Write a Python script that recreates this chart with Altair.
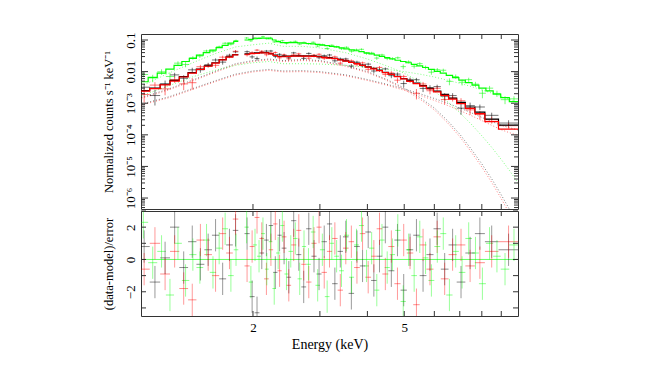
import altair as alt
import pandas as pd

W = 377
H_TOP = 175
H_BOT = 105
FONT = "Liberation Serif"

# ---------------- data ----------------
# energy bin edges (keV); the bin whose model is None is the gap near 1.85 keV
edges_br = [1.00, 1.07, 1.14, 1.21, 1.28, 1.35, 1.42, 1.49, 1.56, 1.63, 1.70, 1.77, 1.83, 1.90,
            1.96, 2.02, 2.08, 2.14, 2.20, 2.26, 2.32, 2.38, 2.45, 2.52, 2.60, 2.68, 2.76, 2.85,
            2.94, 3.03, 3.13, 3.23, 3.34, 3.45, 3.57, 3.69, 3.82, 3.95, 4.09, 4.23, 4.38, 4.54,
            4.71, 4.89, 5.08, 5.28, 5.49, 5.72, 5.97, 6.24, 6.54, 6.87, 7.24, 7.67, 8.15, 8.85, 10.0]
edges_g = [1.00, 1.06, 1.12, 1.18, 1.24, 1.30, 1.36, 1.42, 1.48, 1.54, 1.60, 1.66, 1.72, 1.78,
           1.83, 1.90, 1.95, 2.00, 2.05, 2.10, 2.15, 2.20, 2.25, 2.30, 2.36, 2.42, 2.48, 2.55,
           2.62, 2.69, 2.76, 2.84, 2.92, 3.00, 3.09, 3.18, 3.27, 3.37, 3.47, 3.58, 3.69, 3.80,
           3.92, 4.04, 4.17, 4.30, 4.44, 4.58, 4.73, 4.89, 5.05, 5.22, 5.40, 5.59, 5.79, 6.00,
           6.22, 6.45, 6.70, 6.96, 7.24, 7.54, 7.86, 8.20, 8.57, 8.97, 9.45, 10.0]

# total model per bin, log10(counts s^-1 keV^-1)
model_black = [-2.60, -2.52, -2.40, -2.28, -2.16, -2.03, -1.92, -1.82, -1.72, -1.62, -1.53, -1.46, None,
               -1.44, -1.42, -1.41, -1.40, -1.40, -1.43, -1.48, -1.52,
               -1.52, -1.51, -1.50, -1.50, -1.50, -1.50, -1.51, -1.52,
               -1.54, -1.56, -1.58, -1.62, -1.66, -1.70, -1.74, -1.79,
               -1.85, -1.90, -1.96, -2.02, -2.08, -2.15, -2.22, -2.29,
               -2.36, -2.44, -2.53, -2.62, -2.72, -2.84, -2.97, -3.12,
               -3.28, -3.50, -3.69]
model_red = [-2.62, -2.54, -2.42, -2.30, -2.17, -2.05, -1.93, -1.83, -1.73, -1.63, -1.54, -1.47, None,
             -1.45, -1.43, -1.42, -1.41, -1.41, -1.44, -1.49, -1.53,
             -1.53, -1.52, -1.51, -1.51, -1.51, -1.51, -1.52, -1.53,
             -1.55, -1.57, -1.59, -1.63, -1.67, -1.71, -1.75, -1.80,
             -1.86, -1.91, -1.97, -2.03, -2.09, -2.16, -2.23, -2.31,
             -2.38, -2.46, -2.55, -2.64, -2.75, -2.87, -3.01, -3.16,
             -3.33, -3.58, -3.82]
model_green = [-2.32, -2.18, -2.05, -1.92, -1.80, -1.68, -1.58, -1.48, -1.40, -1.32, -1.24, -1.17, -1.10, -1.04, None,
               -1.00, -0.98, -0.96, -0.95, -0.94, -0.94, -0.96, -1.00, -1.05, -1.08,
               -1.08, -1.08, -1.08, -1.09, -1.10, -1.11, -1.12, -1.14, -1.16, -1.18,
               -1.20, -1.22, -1.25, -1.28, -1.31, -1.34, -1.37, -1.41, -1.44, -1.48,
               -1.52, -1.56, -1.60, -1.64, -1.68, -1.72, -1.77, -1.82, -1.87, -1.93,
               -1.99, -2.05, -2.12, -2.19, -2.27, -2.35, -2.43, -2.52, -2.61, -2.71,
               -2.82, -2.95]

# residuals (data-model)/error per bin
resid_black = [0.8, -1.4, 0.1, 2.0, -0.5, 1.1, -0.3, 0.6, 1.5, -1.2, 0.9, 1.8, None,
               1.6, -2.3, -3.3, 0.4, 1.2, 2.1, -0.8, 1.5, 0.7, -1.1, 2.4, 0.3, -1.7, 1.9,
               0.2, -0.9, 1.1, 2.2, -1.5, 0.5, 1.4, -2.1, 0.8, -0.4, 1.7, -1.3, 0.2, 2.0,
               -0.7, 1.2, -1.9, 0.6, 1.5, -1.0, 0.3, 1.9, -0.6, 0.9, -1.4, 0.4, 1.6, 1.1, 0.6]
resid_red = [-0.6, 1.0, -0.9, 0.5, -1.8, -2.5, 1.2, 0.3, -1.0, 1.6, 0.4, 2.5, None,
             -0.4, 0.8, 2.6, 1.3, -1.2, 0.6, 2.2, -0.7, 1.4, -1.6, 0.9, 1.8, -0.3, -1.4,
             1.0, 2.0, -0.8, 0.5, 1.3, -1.9, 0.7, 1.1, -0.5, 1.6, -1.1, 0.2, 1.9, -0.9,
             0.8, -1.5, 1.2, 0.4, -2.8, 0.9, -0.6, 1.4, -1.2, 0.3, 0.9, -0.4, -0.2, 0.5, 1.1]
resid_green = [2.3, -0.2, 0.5, -2.2, 1.0, -1.3, 0.3, -0.5, 1.2, -0.8, 0.7, 1.9, -1.0, 0.6, None,
               2.0, -1.4, 0.9, 0.2, 1.6, -0.6, 1.1, -1.8, 0.4, 2.1, -0.9, 0.5, 1.3, -1.2,
               0.8, -0.3, 1.7, -1.6, 0.6, -2.3, 1.0, 0.2, -0.7, 1.5, -1.1, 0.9, 2.1, -0.4,
               0.7, -1.9, 1.2, -0.5, 0.3, 1.8, -2.6, 0.6, -1.0, 1.4, 0.1, -1.3, 0.8, 1.6,
               -2.2, 0.5, -0.8, 1.3, 0.4, -1.5, 1.0, 0.2, -0.6, 0.9]

# fractional 1-sigma errors of the data points
frac_br = [0.35, 0.30, 0.28, 0.25, 0.22, 0.20, 0.18, 0.16, 0.15, 0.14, 0.13, 0.12, None,
           0.11, 0.10, 0.10, 0.10, 0.10, 0.10, 0.11, 0.11, 0.11, 0.10, 0.10, 0.10, 0.10,
           0.10, 0.10, 0.10, 0.10,
           0.10, 0.11, 0.11, 0.11, 0.12, 0.12, 0.12, 0.13, 0.13, 0.14, 0.14, 0.15, 0.15,
           0.16, 0.17,
           0.18, 0.19, 0.20, 0.21, 0.22, 0.23, 0.25, 0.27, 0.28, 0.28, 0.26]
frac_g = [0.30, 0.25, 0.22, 0.19, 0.17, 0.15, 0.13, 0.12, 0.11, 0.10, 0.09, 0.09, 0.08, 0.08, None,
          0.08, 0.07, 0.07, 0.07, 0.07, 0.07, 0.07, 0.07, 0.07, 0.07, 0.07, 0.07, 0.07, 0.07,
          0.07, 0.07, 0.07, 0.07, 0.07,
          0.08, 0.08, 0.08, 0.08, 0.08, 0.09, 0.09, 0.09, 0.09, 0.10, 0.10, 0.10, 0.11, 0.11,
          0.11, 0.12, 0.12,
          0.13, 0.13, 0.14, 0.14, 0.15, 0.15, 0.16, 0.17, 0.18, 0.19, 0.20, 0.21, 0.22, 0.23,
          0.24, 0.25]

# model components (dotted), log10 values at these energies
comp_e = [1.0, 1.2, 1.4, 1.6, 1.8, 2.0, 2.2, 2.4, 2.7, 3.0, 3.5, 4.0, 4.5, 5.0, 5.5, 6.0,
          6.5, 7.0, 7.5, 8.0, 8.5, 9.0, 9.5, 10.0]
soft_black = [-2.85, -2.55, -2.25, -1.98, -1.75, -1.65, -1.60, -1.65, -1.62, -1.65, -1.80, -2.00,
              -2.25, -2.52, -2.82, -3.15, -3.55, -3.98, -4.45, -4.92, -5.40, -5.90, -6.40, -6.90]
hard_black = [-3.05, -2.80, -2.52, -2.28, -2.08, -1.98, -1.93, -1.98, -1.97, -2.00, -2.10, -2.25,
              -2.40, -2.55, -2.70, -2.85, -3.00, -3.15, -3.30, -3.45, -3.58, -3.70, -3.78, -3.85]
soft_red = [-2.88, -2.58, -2.28, -2.01, -1.78, -1.68, -1.63, -1.68, -1.65, -1.68, -1.83, -2.03,
            -2.28, -2.56, -2.87, -3.21, -3.62, -4.06, -4.54, -5.02, -5.51, -6.02, -6.53, -7.05]
hard_red = [-3.08, -2.83, -2.55, -2.31, -2.11, -2.01, -1.96, -2.01, -2.00, -2.03, -2.13, -2.28,
            -2.43, -2.59, -2.75, -2.91, -3.07, -3.23, -3.39, -3.55, -3.70, -3.84, -3.94, -4.02]
soft_green = [-2.50, -2.05, -1.70, -1.42, -1.22, -1.15, -1.10, -1.20, -1.20, -1.25, -1.40, -1.60,
              -1.82, -2.05, -2.32, -2.62, -2.95, -3.30, -3.66, -4.03, -4.40, -4.78, -5.16, -5.55]
hard_green = [-2.80, -2.45, -2.15, -1.95, -1.80, -1.72, -1.68, -1.75, -1.75, -1.76, -1.80, -1.86,
              -1.93, -2.00, -2.08, -2.17, -2.27, -2.37, -2.47, -2.58, -2.68, -2.78, -2.89, -3.00]

set_names = ["Black", "Red", "Green"]
set_colors = ["#000000", "#ff0000", "#00ff00"]

# axis ranges and tick labels
x_domain = [1.015, 9.96]
ytop_domain = [4.5e-7, 0.155]
ybot_domain = [-3.5, 3.0]
ytop_vals = [1e-6, 1e-5, 1e-4, 1e-3, 0.01, 0.1]
ytop_text = ["10⁻⁶", "10⁻⁵", "10⁻⁴", "10⁻³", "0.01", "0.1"]
ybot_vals = [-2, 0, 2]
ybot_text = ["−2", "0", "2"]
x_label_vals = [2, 5]
x_tick_vals = [2, 3, 4, 5, 6, 7, 8, 9]
ybot_tick_vals = [-3, -2, -1, 0, 1, 2, 3]

# ---------------- tables ----------------
def build(name, edges, model, resid, frac):
    pts, steps = [], []
    seg = 0
    for i in range(len(edges) - 1):
        if model[i] is None:
            seg += 1
            continue
        lo, hi = edges[i], edges[i + 1]
        m = 10 ** model[i]
        err = m * frac[i]
        d = m + resid[i] * err
        pts.append({"set": name, "lo": lo, "hi": hi, "ctr": (lo * hi) ** 0.5,
                    "d": d, "dlo": max(d - err, 1e-8), "dhi": d + err,
                    "r": resid[i], "rlo": resid[i] - 1, "rhi": resid[i] + 1})
        key = f"{name}-{seg}"
        steps.append({"set": name, "seg": key, "x": lo, "y": m, "o": 2 * i})
        steps.append({"set": name, "seg": key, "x": hi, "y": m, "o": 2 * i + 1})
    return pts, steps

pts, steps = [], []
for nm, ed, mo, rs, fr in [("Black", edges_br, model_black, resid_black, frac_br),
                           ("Red", edges_br, model_red, resid_red, frac_br),
                           ("Green", edges_g, model_green, resid_green, frac_g)]:
    p, s = build(nm, ed, mo, rs, fr)
    pts += p
    steps += s
pts_df = pd.DataFrame(pts)
steps_df = pd.DataFrame(steps)

comp_rows = []
for nm, comps in [("Black", [soft_black, hard_black]), ("Red", [soft_red, hard_red]),
                  ("Green", [soft_green, hard_green])]:
    for ci, c in enumerate(comps):
        for e, v in zip(comp_e, c):
            comp_rows.append({"set": nm, "comp": f"{nm}{ci}", "e": e, "v": 10 ** v})
comp_df = pd.DataFrame(comp_rows)

decades = [1e-7, 1e-6, 1e-5, 1e-4, 1e-3, 1e-2, 1e-1]
ymin, ymax = ytop_domain
ytick_major = pd.DataFrame({"v": ytop_vals})
ytick_minor = pd.DataFrame({"v": [k * d for d in decades for k in range(2, 10) if ymin < k * d < ymax]})
xtick_df = pd.DataFrame({"v": x_tick_vals})
ybtick_df = pd.DataFrame({"v": ybot_tick_vals})

# ---------------- encodings ----------------
color = alt.Color("set:N", scale=alt.Scale(domain=set_names, range=set_colors), legend=None)
xscale = alt.Scale(type="log", domain=x_domain, nice=False)
yscale_top = alt.Scale(type="log", domain=ytop_domain, nice=False)
yscale_bot = alt.Scale(domain=ybot_domain, nice=False, zero=False)

def label_expr(vals, texts):
    expr = f"'{texts[-1]}'"
    for v, t in list(zip(vals, texts))[:-1][::-1]:
        expr = f"abs(datum.value - ({v}))/({abs(v) if v != 0 else 1}) < 0.01 ? '{t}' : " + expr
    return expr

common_axis = dict(labelFont=FONT, titleFont=FONT, labelColor="#000000", titleColor="#000000",
                   titleFontWeight="normal", labelFontWeight="normal", grid=False,
                   ticks=False, tickSize=0, domain=False, labelOverlap=False)

ytop_axis = alt.Axis(values=ytop_vals, labelExpr=label_expr(ytop_vals, ytop_text),
                     labelAngle=270, labelAlign="center", labelBaseline="bottom",
                     labelPadding=4, labelFontSize=13, titleFontSize=12.5,
                     title="Normalized counts s⁻¹ keV⁻¹", titlePadding=9,
                     minExtent=17, maxExtent=17, **common_axis)
ybot_axis = alt.Axis(values=ybot_vals, labelExpr=label_expr(ybot_vals, ybot_text),
                     labelAngle=270, labelAlign="center", labelBaseline="bottom",
                     labelPadding=4, labelFontSize=13, titleFontSize=12.5,
                     title="(data-model)/error", titlePadding=9,
                     minExtent=17, maxExtent=17, **common_axis)
xbot_axis = alt.Axis(values=x_label_vals, format=".0f", labelFontSize=13, labelPadding=5,
                     title="Energy (keV)", titleFontSize=14, titlePadding=3, **common_axis)

def yt(f):
    return alt.Y(f, type="quantitative", scale=yscale_top, axis=ytop_axis)

def yb(f):
    return alt.Y(f, type="quantitative", scale=yscale_bot, axis=ybot_axis)

def xt(f):
    return alt.X(f, type="quantitative", scale=xscale, axis=None)

def xb(f):
    return alt.X(f, type="quantitative", scale=xscale, axis=xbot_axis)

TICK = "#333333"

def yticks(df, yfun, length):
    left = alt.Chart(df).mark_rule(color=TICK, strokeWidth=1).encode(
        y=yfun("v"), x=alt.value(0), x2=alt.value(length))
    right = alt.Chart(df).mark_rule(color=TICK, strokeWidth=1).encode(
        y=yfun("v"), x=alt.value(W), x2=alt.value(W - length))
    return [left, right]

def xticks(xfun, h, length):
    top = alt.Chart(xtick_df).mark_rule(color=TICK, strokeWidth=1).encode(
        x=xfun("v"), y=alt.value(0), y2=alt.value(length))
    bot = alt.Chart(xtick_df).mark_rule(color=TICK, strokeWidth=1).encode(
        x=xfun("v"), y=alt.value(h), y2=alt.value(h - length))
    return [top, bot]

# ---------------- top panel ----------------
dotted = alt.Chart(comp_df).mark_line(strokeDash=[1, 2], strokeWidth=1, opacity=0.5, clip=True).encode(
    x=xt("e"), y=yt("v"), color=color, detail="comp:N")
cross_h = alt.Chart(pts_df).mark_rule(strokeWidth=1, opacity=0.55, clip=True).encode(
    x=xt("lo"), x2="hi:Q", y=yt("d"), color=color)
cross_v = alt.Chart(pts_df).mark_rule(strokeWidth=1, opacity=0.55, clip=True).encode(
    x=xt("ctr"), y=yt("dlo"), y2="dhi:Q", color=color)
step = alt.Chart(steps_df).mark_line(strokeWidth=1.2, clip=True).encode(
    x=xt("x"), y=yt("y"), color=color, detail="seg:N", order="o:Q")

top = alt.layer(
    dotted, cross_h, cross_v, step,
    *yticks(ytick_major, yt, 7), *yticks(ytick_minor, yt, 4),
    *xticks(xt, H_TOP, 5),
).properties(width=W, height=H_TOP)

# ---------------- bottom panel ----------------
zero = alt.Chart(pd.DataFrame({"z": [0.0]})).mark_rule(color="#00ff00", strokeWidth=1, opacity=0.6).encode(y=yb("z"))
rcross_h = alt.Chart(pts_df).mark_rule(strokeWidth=1, opacity=0.45, clip=True).encode(
    x=xb("lo"), x2="hi:Q", y=yb("r"), color=color)
rcross_v = alt.Chart(pts_df).mark_rule(strokeWidth=1, opacity=0.4, clip=True).encode(
    x=xb("ctr"), y=yb("rlo"), y2="rhi:Q", color=color)

bottom = alt.layer(
    zero, rcross_h, rcross_v,
    *yticks(ybtick_df, yb, 5),
    *xticks(xb, H_BOT, 5),
).properties(width=W, height=H_BOT)

chart = alt.vconcat(top, bottom, spacing=0).properties(
    padding={"left": 93, "top": 23, "right": 5, "bottom": 5}, background="white"
).configure_view(stroke="#333333", strokeWidth=1)

chart.save("out.html", embed_options={"renderer": "svg", "actions": False})
